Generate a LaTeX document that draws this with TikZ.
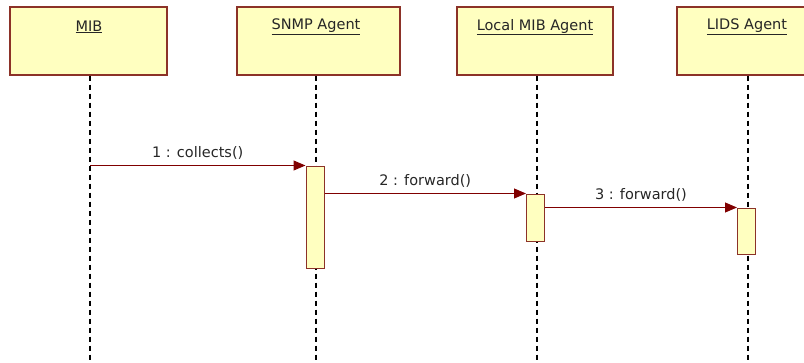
\documentclass[tikz,border=0pt]{standalone}
\usepackage{fontspec}
\setmainfont{DejaVu Sans}
\usetikzlibrary{arrows.meta}
\definecolor{boxfill}{RGB}{255,255,192}
\definecolor{boxline}{RGB}{140,50,40}
\definecolor{msgline}{RGB}{128,0,0}
\begin{document}
\begin{tikzpicture}[x=1pt,y=-1pt,
		obj/.style={draw=boxline,fill=boxfill,line width=1.2pt,minimum height=68pt,inner sep=0pt},
		objname/.style={font=\fontsize{14.5}{17}\selectfont,text=black!85},
		act/.style={draw=boxline,fill=boxfill,line width=1pt,minimum width=18pt,inner sep=0pt},
		life/.style={black,line width=1.1pt,dash pattern=on 5pt off 4pt},
		msg/.style={draw=msgline,line width=1pt,-{Triangle[length=12pt,width=10pt]}},
		msgname/.style={font=\fontsize{14.5}{17}\selectfont,text=black!85,above=2pt}]
	\useasboundingbox (0,0) rectangle (804,362);
	% objects
		\node[obj,minimum width=157pt] (mib) at (88.5,41) {};
		\node[objname] (mibname) at (89,27) {\underline{MIB}};
		\node[obj,minimum width=163pt] (snmp) at (318.5,41) {};
		\node[objname] (snmpname) at (316,27) {\underline{SNMP Agent}};
		\node[obj,minimum width=156pt] (local) at (535,41) {};
		\node[objname] (localname) at (535,27) {\underline{Local MIB Agent}};
		\node[obj,minimum width=142pt] (lids) at (748,41) {};
		\node[objname] (lidsname) at (747,27) {\underline{LIDS Agent}};
	% lifelines
		\coordinate (mibend) at (90,362);
		\coordinate (snmpend) at (316,362);
		\coordinate (localend) at (537,362);
		\coordinate (lidsend) at (748,362);
		\draw[life] (mibend |- mib.south) -- (mibend);
		\draw[life] (snmpend |- snmp.south) -- (snmpend);
		\draw[life] (localend |- local.south) -- (localend);
		\draw[life] (lidsend |- lids.south) -- (lidsend);
	% activations
		\node[act,minimum height=102pt] (snmpact) at (315,217) {};
		\node[act,minimum height=47pt] (localact) at (535.5,217.5) {};
		\node[act,minimum height=46pt] (lidsact) at (746.5,231) {};
	% messages
		\draw[msg] (mibend |- snmpact.north) -- node[msgname] {1 : collects()} (snmpact.north west);
		\draw[msg] (snmpact.east |- localact.north) -- node[msgname] {2 : forward()} (localact.north west);
		\draw[msg] (localact.east |- lidsact.north) -- node[msgname] {3 : forward()} (lidsact.north west);
\end{tikzpicture}
\end{document}
